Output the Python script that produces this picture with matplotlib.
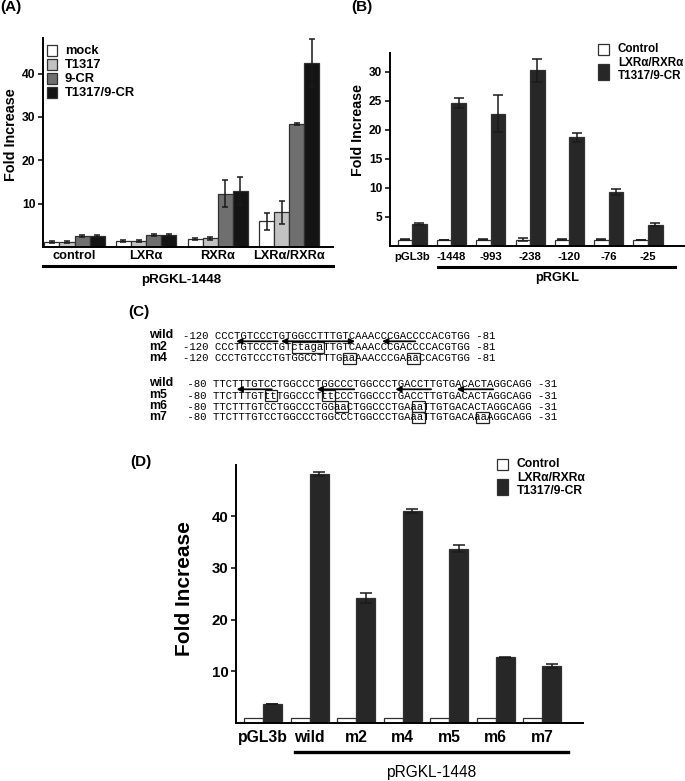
import numpy as np
import matplotlib.pyplot as plt
from matplotlib.patches import Rectangle
from matplotlib.transforms import blended_transform_factory

W, H = 685, 781
plt.rcParams['font.family'] = ['Liberation Sans', 'DejaVu Sans']
plt.rcParams['font.weight'] = 'bold'
plt.rcParams['axes.labelweight'] = 'bold'

# ---------- data ----------
# (A) pRGKL-1448 with receptors / ligands
a_groups = ['control', 'LXRα', 'RXRα', 'LXRα/RXRα']
a_series = ['mock', 'T1317', '9-CR', 'T1317/9-CR']
a_mock = [1.2, 1.4, 1.8, 5.9]
a_t1317 = [1.2, 1.4, 2.0, 8.0]
a_9cr = [2.5, 2.8, 12.3, 28.4]
a_both = [2.5, 2.8, 12.9, 42.4]
a_mock_err = [0.2, 0.2, 0.2, 2.0]
a_t1317_err = [0.2, 0.2, 0.4, 2.6]
a_9cr_err = [0.3, 0.2, 3.1, 0.2]
a_both_err = [0.2, 0.2, 3.3, 5.6]
a_colors = ['white', '#c2c2c2', '#6f6f6f', '#141414']

# (B) deletion constructs
b_labels = ['pGL3b', '-1448', '-993', '-238', '-120', '-76', '-25']
b_ctrl = [1.1, 1.1, 1.1, 1.1, 1.1, 1.1, 1.1]
b_ctrl_err = [0.1, 0.0, 0.1, 0.3, 0.1, 0.1, 0.0]
b_treat = [3.8, 24.6, 22.8, 30.3, 18.7, 9.3, 3.7]
b_treat_err = [0.15, 0.9, 3.2, 2.0, 0.8, 0.6, 0.3]

# (C) sequences (lowercase = mutated bases)
seq_start1, seq_end1 = '-120', '-81'
seq_start2, seq_end2 = ' -80', '-31'
block1 = [('wild', 'CCCTGTCCCTGTGGCCTTTGTCAAACCCGACCCCACGTGG'),
          ('m2', 'CCCTGTCCCTGTctagaTTGTCAAACCCGACCCCACGTGG'),
          ('m4', 'CCCTGTCCCTGTGGCCTTTGaaAAACCCGAaaCCACGTGG')]
block2 = [('wild', 'TTCTTTGTCCTGGCCCTGGCCCTGGCCCTGACCTTGTGACACTAGGCAGG'),
          ('m5', 'TTCTTTGTttTGGCCCTttCCCTGGCCCTGACCTTGTGACACTAGGCAGG'),
          ('m6', 'TTCTTTGTCCTGGCCCTGGaaCTGGCCCTGAaaTTGTGACACTAGGCAGG'),
          ('m7', 'TTCTTTGTCCTGGCCCTGGCCCTGGCCCTGAaaTTGTGACAaaAGGCAGG')]
# half-site arrows under the wild sequence: (from char, to char, direction)
arrows1 = [(3.3, 9.8, -1), (10.3, 16.1, -1), (16.1, 21.9, 1), (26.1, 31.3, -1)]
arrows2 = [(3.6, 9.1, -1), (16.1, 22.0, -1), (28.4, 34.0, -1), (38.0, 43.7, -1)]

# (D) point mutants
d_labels = ['pGL3b', 'wild', 'm2', 'm4', 'm5', 'm6', 'm7']
d_ctrl = [1.0, 1.0, 1.0, 1.0, 1.0, 1.0, 1.0]
d_treat = [3.7, 48.1, 24.2, 41.0, 33.7, 12.7, 11.0]
d_treat_err = [0.0, 0.4, 1.0, 0.4, 0.7, 0.15, 0.35]

ctrl_color = 'white'
treat_color = '#272727'
edge = '#303030'

fig = plt.figure(figsize=(W / 100, H / 100), dpi=100)


def px_axes(left, top, right, bottom):
    return fig.add_axes([left / W, 1 - bottom / H, (right - left) / W, (bottom - top) / H])


def style(ax, tsize, xsize, xpad):
    for s in ['top', 'right']:
        ax.spines[s].set_visible(False)
    for s in ['left', 'bottom']:
        ax.spines[s].set_linewidth(1.4)
    ax.tick_params(axis='y', direction='out', length=3.5, width=1.1, labelsize=tsize, pad=2)
    ax.tick_params(axis='x', length=0, labelsize=xsize, pad=xpad)


ekw = dict(ecolor='#1a1a1a', elinewidth=1.1, capthick=1.1)

# ---------- (A) ----------
axA = px_axes(43, 38, 333, 247)
a_centers = np.arange(len(a_groups)) * 4.75
offs = np.arange(4) - 1.5
a_all = [a_mock, a_t1317, a_9cr, a_both]
a_all_err = [a_mock_err, a_t1317_err, a_9cr_err, a_both_err]
for j in range(4):
    axA.bar(a_centers + offs[j], a_all[j], width=1, color=a_colors[j], edgecolor=edge,
            linewidth=0.9, yerr=a_all_err[j], error_kw=dict(capsize=2.5, **ekw), zorder=2)
axA.set_xlim(a_centers[0] - 2.09, a_centers[-1] + 2.9)
axA.set_ylim(0, 48.2)
axA.set_yticks([10, 20, 30, 40])
axA.set_xticks(a_centers, a_groups)
style(axA, 8.7, 9.2, 2.5)
axA.set_ylabel('Fold Increase', fontsize=10.4, va='center')
axA.yaxis.set_label_coords(-0.11, 0.536)
trA = blended_transform_factory(axA.transAxes, axA.transAxes)
axA.plot([0, 1], [-0.091, -0.091], color='black', lw=2.2, transform=trA, clip_on=False)
axA.text(0.476, -0.158, 'pRGKL-1448', transform=trA, ha='center', va='center', fontsize=9.6)

# ---------- (B) ----------
axB = px_axes(390, 52.7, 685, 246)
b_centers = np.arange(len(b_labels)) * 2.71
axB.bar(b_centers - 0.5, b_ctrl, width=1, color=ctrl_color, edgecolor=edge, linewidth=0.9,
        yerr=b_ctrl_err, error_kw=dict(capsize=3.5, **ekw), zorder=2)
axB.bar(b_centers + 0.5, b_treat, width=1, color=treat_color, edgecolor=edge, linewidth=0.9,
        yerr=b_treat_err, error_kw=dict(capsize=3.5, **ekw), zorder=2)
axB.set_xlim(b_centers[0] - 1.52, b_centers[-1] + 2.55)
axB.set_ylim(0, 33.3)
axB.set_yticks([5, 10, 15, 20, 25, 30])
axB.set_xticks(b_centers, b_labels)
style(axB, 8.6, 8.2, 4)
axB.set_ylabel('Fold Increase', fontsize=10.3, va='center')
axB.yaxis.set_label_coords(-0.107, 0.6)
trB = blended_transform_factory(axB.transData, axB.transAxes)
bx0, bx1 = b_centers[1] - 0.92, b_centers[-1] + 1.88
axB.plot([bx0, bx1], [-0.109, -0.109], color='black', lw=2.2, transform=trB, clip_on=False)
axB.text((bx0 + bx1) / 2, -0.166, 'pRGKL', transform=trB, ha='center', va='center', fontsize=9.2)

# ---------- (D) ----------
axD = px_axes(236, 465, 583.3, 723)
d_centers = np.arange(len(d_labels)) * 2.45
axD.bar(d_centers - 0.5, d_ctrl, width=1, color=ctrl_color, edgecolor=edge, linewidth=0.9, zorder=2)
axD.bar(d_centers + 0.5, d_treat, width=1, color=treat_color, edgecolor=edge, linewidth=0.9,
        yerr=d_treat_err, error_kw=dict(capsize=4.2, **ekw), zorder=2)
axD.set_xlim(d_centers[0] - 1.42, d_centers[-1] + 2.16)
axD.set_ylim(0, 49.9)
axD.set_yticks([10, 20, 30, 40])
axD.set_xticks(d_centers, d_labels)
style(axD, 10.8, 11.3, 5)
axD.set_ylabel('Fold Increase', fontsize=15, va='center')
axD.yaxis.set_label_coords(-0.147, 0.523)
trD = blended_transform_factory(axD.transData, axD.transAxes)
dx0, dx1 = d_centers[1] - 0.77, d_centers[-1] + 1.34
axD.plot([dx0, dx1], [-0.111, -0.111], color='black', lw=2.4, transform=trD, clip_on=False)
axD.text((dx0 + dx1) / 2, -0.193, 'pRGKL-1448', transform=trD, ha='center', va='center',
         fontsize=11.2, weight='normal')

# ---------- overlay in pixel coordinates: panel letters, legends, (C) ----------
ov = fig.add_axes([0, 0, 1, 1], zorder=5)
ov.set_xlim(0, W)
ov.set_ylim(H, 0)
ov.axis('off')
ov.patch.set_alpha(0)

for lab, x, y in [('(A)', 0, 7), ('(B)', 351, 7), ('(C)', 128, 312), ('(D)', 130, 462)]:
    ov.text(x, y, lab, fontsize=11, ha='left', va='center')

# legend A
for j, name in enumerate(a_series):
    y = 50.5 + 14 * j
    ov.add_patch(Rectangle((47, y - 5.3), 10.5, 10.6, facecolor=a_colors[j], edgecolor=edge, lw=0.9))
    ov.text(65, y, name, fontsize=9.3, va='center', ha='left')


def two_entry_legend(x, y, size):
    ov.add_patch(Rectangle((x, y - 5.5), 11.5, 11.5, facecolor=ctrl_color, edgecolor=edge, lw=0.9))
    ov.text(x + 20, y, 'Control', fontsize=size, va='center', ha='left')
    ov.add_patch(Rectangle((x, y + 14.5), 11.5, 16.5, facecolor=treat_color, edgecolor=edge, lw=0.9))
    ov.text(x + 20, y + 20.5, 'LXRα/RXRα\nT1317/9-CR', fontsize=size, va='center', ha='left',
            linespacing=1.2)


two_entry_legend(598, 49, 8.4)
two_entry_legend(497, 464, 8.7)

# (C) sequences
seq_fs = 7.68
cw = seq_fs * 100 / 72 * 0.6


def draw_block(rows, x0, ys, start, end, arrows):
    sx = x0 + 5 * cw
    for (name, seq), y in zip(rows, ys):
        ov.text(149, y, name, fontsize=8.9, ha='left', va='center')
        ov.text(x0, y + 3.6, f'{start} {seq} {end}', family='Liberation Mono',
                fontsize=seq_fs, weight='normal', ha='left', va='baseline')
        i = 0
        while i < len(seq):
            if seq[i].islower():
                k = i
                while k < len(seq) and seq[k].islower():
                    k += 1
                ov.add_patch(Rectangle((sx + i * cw, y - 4.6), (k - i) * cw, 11,
                                       fill=False, edgecolor='#222222', lw=0.9))
                i = k
            else:
                i += 1
    ya = ys[0] + 6.3
    for a0, a1, d in arrows:
        tail, head = (a1, a0) if d < 0 else (a0, a1)
        ov.annotate('', xy=(sx + head * cw, ya), xytext=(sx + tail * cw, ya),
                    arrowprops=dict(arrowstyle='-|>', lw=1.3, color='black',
                                    mutation_scale=8, shrinkA=0, shrinkB=0))


draw_block(block1, 183, [335, 346.7, 357.7], seq_start1, seq_end1, arrows1)
draw_block(block2, 181.5, [383, 395, 406, 416.7], seq_start2, seq_end2, arrows2)

fig.savefig('out.png', dpi=100)
